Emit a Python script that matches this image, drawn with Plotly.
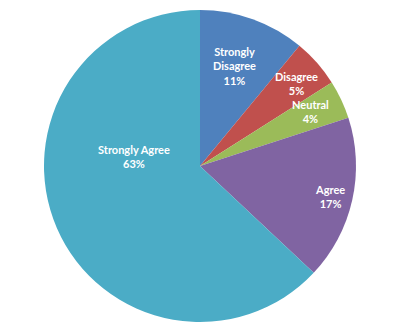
import plotly.graph_objects as go

categories = ["Strongly Disagree", "Disagree", "Neutral", "Agree", "Strongly Agree"]
display_labels = ["Strongly<br>Disagree", "Disagree", "Neutral", "Agree", "Strongly Agree"]
values = [11, 5, 4, 17, 63]
colors = ["#4F81BD", "#C0504D", "#9BBB59", "#8064A2", "#4BACC6"]

W, H = 400, 332
# label centre positions in pixels (layout only)
label_pos = [(234, 66), (296, 83), (310, 112), (330, 196), (134, 156)]

fig = go.Figure(go.Pie(
    labels=categories,
    values=values,
    sort=False,
    direction="clockwise",
    rotation=0,
    marker=dict(colors=colors, line=dict(width=0)),
    textinfo="none",
    hoverinfo="label+percent",
    showlegend=False,
    domain=dict(x=[0, 1], y=[10/332, 322/332]),
))

total = sum(values)
for lab, v, (px, py) in zip(display_labels, values, label_pos):
    fig.add_annotation(
        x=px / W, y=1 - py / H, xref="paper", yref="paper",
        text=f"<b>{lab}<br>{round(100 * v / total)}%</b>",
        showarrow=False, xanchor="center", yanchor="middle",
        font=dict(family="Lato, Open Sans, sans-serif", size=11, color="white"),
        align="center",
    )

fig.update_layout(
    width=W, height=H,
    margin=dict(l=0, r=0, t=0, b=0),
    paper_bgcolor="white",
)
fig.write_html("out.html")
